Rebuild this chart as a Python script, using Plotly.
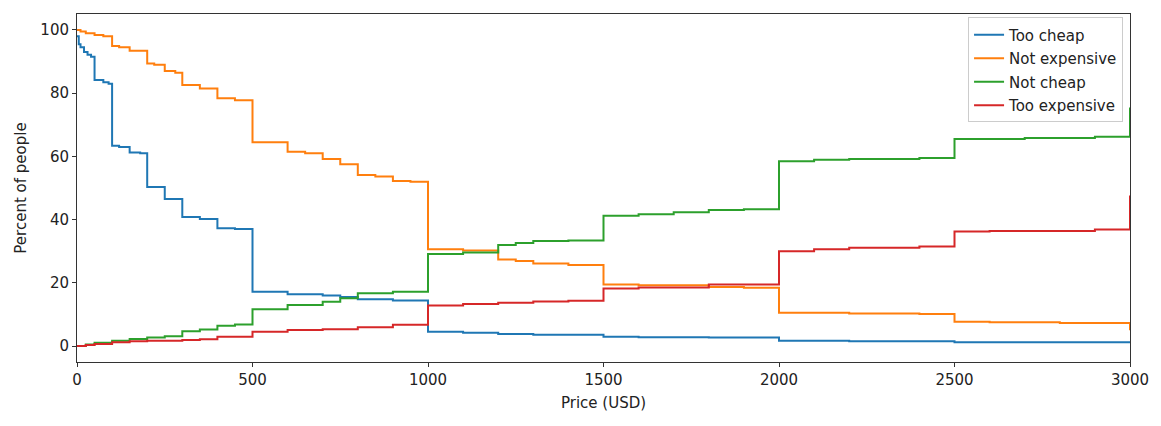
import plotly.graph_objects as go

# Step points: (price, value after that price)
too_cheap_x = [0, 5, 10, 20, 30, 40, 50, 75, 90, 100, 120, 150, 180, 200, 250, 300, 350, 400, 450, 500,
               600, 700, 750, 800, 900, 1000, 1100, 1200, 1300, 1500, 1600, 1800, 2000, 2200, 2500, 3000]
too_cheap_y = [98, 95.5, 94.5, 93, 92.2, 91.5, 84.2, 83.5, 83, 63.4, 63, 61.2, 61, 50.3, 46.5, 40.8, 40.2, 37.3, 37, 17.2,
               16.4, 16, 15.5, 14.8, 14.4, 4.5, 4.2, 3.8, 3.6, 2.9, 2.8, 2.7, 1.7, 1.5, 1.2, 1.0]

not_exp_x = [0, 10, 25, 50, 75, 100, 120, 150, 200, 220, 250, 280, 300, 350, 400, 450, 500, 600, 650, 700,
             750, 800, 850, 900, 950, 1000, 1100, 1200, 1250, 1300, 1400, 1500, 1600, 1800, 1900, 2000, 2200,
             2400, 2500, 2600, 2800, 3000]
not_exp_y = [100, 99.5, 99, 98.4, 98, 94.9, 94.5, 93.4, 89.4, 89, 87, 86.5, 82.6, 81.5, 78.4, 77.8, 64.5, 61.5, 61, 59.2,
             57.5, 54.1, 53.6, 52.2, 52, 30.6, 30.2, 27.4, 26.9, 26.1, 25.6, 19.5, 19.2, 18.7, 18.4, 10.5, 10.3,
             10.1, 7.7, 7.5, 7.3, 5.0]

not_cheap_x = [0, 25, 50, 100, 150, 200, 250, 300, 350, 400, 450, 500, 600, 700, 750, 800, 900, 1000, 1100, 1200,
               1250, 1300, 1400, 1500, 1600, 1700, 1800, 1900, 2000, 2100, 2200, 2400, 2500, 2700, 2900, 3000]
not_cheap_y = [0, 0.5, 1, 1.7, 2.2, 2.7, 3.1, 4.7, 5.2, 6.4, 6.8, 11.6, 13, 14, 15.1, 16.7, 17.2, 29.1, 29.6, 32,
               32.6, 33.2, 33.4, 41.2, 41.7, 42.3, 43, 43.3, 58.5, 58.9, 59.2, 59.5, 65.5, 65.8, 66.2, 75.5]

too_exp_x = [0, 25, 50, 100, 150, 200, 300, 350, 400, 500, 600, 700, 800, 900, 1000, 1100, 1200, 1300, 1400, 1500,
             1600, 1800, 2000, 2100, 2200, 2400, 2500, 2600, 2900, 3000]
too_exp_y = [0, 0.3, 0.6, 1.2, 1.5, 1.7, 1.9, 2.1, 2.9, 4.5, 5.1, 5.3, 5.9, 6.7, 12.8, 13.3, 13.7, 14.1, 14.3, 18.2,
             18.5, 19.5, 30, 30.6, 31.1, 31.5, 36.2, 36.4, 36.9, 47.6]

series = [
    ("Too cheap", too_cheap_x, too_cheap_y, "#1f77b4"),
    ("Not expensive", not_exp_x, not_exp_y, "#ff7f0e"),
    ("Not cheap", not_cheap_x, not_cheap_y, "#2ca02c"),
    ("Too expensive", too_exp_x, too_exp_y, "#d62728"),
]

x_ticks = [0, 500, 1000, 1500, 2000, 2500, 3000]
y_ticks = [0, 20, 40, 60, 80, 100]

fig = go.Figure()
for name, xs, ys, color in series:
    fig.add_trace(go.Scatter(x=xs, y=ys, mode="lines", name=name, legendgroup=name,
                             line=dict(color=color, width=2, shape="hv")))

font = dict(family="DejaVu Sans", size=15, color="#222")
axis_common = dict(showline=True, linecolor="#333", linewidth=1, mirror=True,
                   ticks="outside", ticklen=4, tickcolor="#333", showgrid=False,
                   zeroline=False, tickfont=font)
fig.update_layout(
    width=1161, height=426,
    margin=dict(l=77, r=31, t=14, b=64),
    plot_bgcolor="white", paper_bgcolor="white",
    font=font,
    xaxis=dict(range=[0, 3000], tickvals=x_ticks, title=dict(text="Price (USD)", font=font, standoff=9),
               **axis_common),
    yaxis=dict(range=[-5.06, 105.06], tickvals=y_ticks, title=dict(text="Percent of people", font=font, standoff=10),
               **axis_common),
    legend=dict(x=0.9934, y=0.99, xanchor="right", yanchor="top",
                bgcolor="rgba(255,255,255,0.8)", bordercolor="#ccc", borderwidth=1,
                font=dict(family="DejaVu Sans", size=15, color="#222"), tracegroupgap=1),
)
fig.write_html("out.html")
